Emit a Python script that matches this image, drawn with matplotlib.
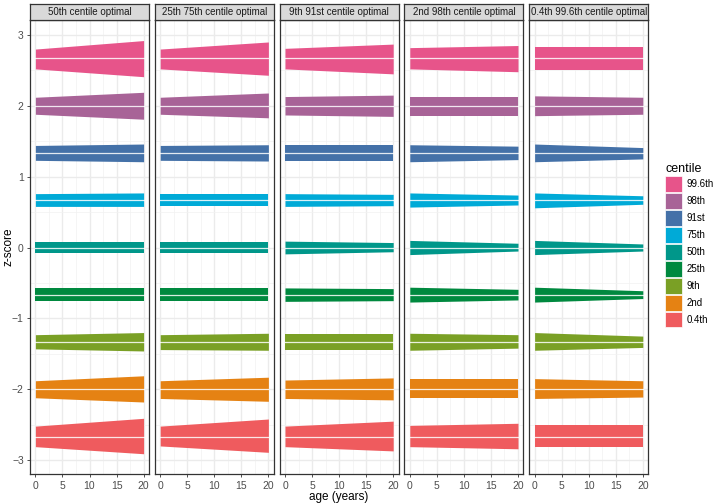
import matplotlib.pyplot as plt
from matplotlib.patches import Patch

plt.rcParams["font.family"] = ["Liberation Sans", "DejaVu Sans"]

ages = [0, 20]

panel_titles = [
    "50th centile optimal",
    "25th 75th centile optimal",
    "9th 91st centile optimal",
    "2nd 98th centile optimal",
    "0.4th 99.6th centile optimal",
]

centiles = ["99.6th", "98th", "91st", "75th", "50th", "25th", "9th", "2nd", "0.4th"]
centile_z = [2.67, 2.0, 1.33, 0.67, 0.0, -0.67, -1.33, -2.0, -2.67]
centile_colours = [
    "#E7548A", "#A86397", "#4471A8", "#00AAD7", "#00978A",
    "#00893F", "#7AA025", "#E58213", "#EF5B5E",
]

# upper / lower edge of each ribbon, (age 0, age 20), per panel then per centile
upper = [
    [(2.80, 2.92), (2.12, 2.19), (1.44, 1.46), (0.76, 0.77), (0.08, 0.08),
     (-0.57, -0.57), (-1.23, -1.20), (-1.88, -1.81), (-2.52, -2.41)],
    [(2.80, 2.90), (2.12, 2.18), (1.44, 1.45), (0.76, 0.76), (0.08, 0.08),
     (-0.57, -0.57), (-1.23, -1.21), (-1.88, -1.83), (-2.52, -2.42)],
    [(2.81, 2.87), (2.13, 2.15), (1.44, 1.44), (0.76, 0.75), (0.09, 0.07),
     (-0.57, -0.58), (-1.22, -1.22), (-1.87, -1.84), (-2.52, -2.45)],
    [(2.82, 2.85), (2.13, 2.13), (1.45, 1.43), (0.77, 0.74), (0.10, 0.06),
     (-0.56, -0.59), (-1.21, -1.23), (-1.86, -1.86), (-2.51, -2.48)],
    [(2.83, 2.83), (2.14, 2.12), (1.46, 1.41), (0.77, 0.73), (0.10, 0.05),
     (-0.56, -0.61), (-1.20, -1.25), (-1.85, -1.88), (-2.50, -2.50)],
]
lower = [
    [(2.52, 2.41), (1.88, 1.81), (1.23, 1.21), (0.58, 0.58), (-0.08, -0.08),
     (-0.76, -0.76), (-1.43, -1.46), (-2.12, -2.18), (-2.81, -2.91)],
    [(2.52, 2.43), (1.88, 1.83), (1.23, 1.22), (0.58, 0.58), (-0.08, -0.08),
     (-0.76, -0.76), (-1.44, -1.45), (-2.13, -2.17), (-2.80, -2.89)],
    [(2.52, 2.45), (1.87, 1.85), (1.22, 1.22), (0.58, 0.59), (-0.09, -0.06),
     (-0.76, -0.75), (-1.44, -1.44), (-2.13, -2.15), (-2.81, -2.87)],
    [(2.52, 2.48), (1.86, 1.86), (1.21, 1.24), (0.57, 0.60), (-0.10, -0.05),
     (-0.77, -0.74), (-1.45, -1.42), (-2.13, -2.13), (-2.81, -2.84)],
    [(2.50, 2.50), (1.86, 1.88), (1.21, 1.25), (0.56, 0.61), (-0.10, -0.05),
     (-0.77, -0.72), (-1.45, -1.41), (-2.13, -2.11), (-2.82, -2.82)],
]

fig = plt.figure(figsize=(7.14, 5.04), dpi=100)
fig.patch.set_facecolor("white")

W, H = 714, 504
left0, width, step = 30, 119, 124.8
bottom, top = 474.3, 20
strip_top = 3.5

axes = []
for i, title in enumerate(panel_titles):
    x0 = left0 + i * step
    ax = fig.add_axes([x0 / W, 1 - bottom / H, width / W, (bottom - top) / H])
    axes.append(ax)

    for j, name in enumerate(centiles):
        ax.fill_between(ages, lower[i][j], upper[i][j],
                        color=centile_colours[j], lw=0, zorder=3)
        ax.plot(ages, [centile_z[j]] * len(ages), color="white",
                lw=0.9, alpha=0.85, zorder=4)

    ax.set_xlim(-1, 21)
    ax.set_ylim(-3.2, 3.21)
    ax.set_xticks([0, 5, 10, 15, 20])
    ax.set_xticks([2.5, 7.5, 12.5, 17.5], minor=True)
    ax.set_yticks([-3, -2, -1, 0, 1, 2, 3])
    ax.set_yticks([-2.5, -1.5, -0.5, 0.5, 1.5, 2.5], minor=True)
    ax.grid(which="major", color="#EBEBEB", lw=1.0, zorder=0)
    ax.grid(which="minor", color="#F2F2F2", lw=0.5, zorder=0)
    ax.set_axisbelow(True)
    ax.tick_params(which="major", length=2.5, width=0.6, color="#333333",
                   labelsize=7.5, labelcolor="#4D4D4D", pad=2)
    ax.tick_params(which="minor", length=0)
    if i > 0:
        ax.tick_params(axis="y", length=0, labelleft=False)
    else:
        ax.set_yticklabels(["\u22123", "\u22122", "\u22121", "0", "1", "2", "3"])
    for s in ax.spines.values():
        s.set_color("#333333")
        s.set_linewidth(0.9)

    # strip
    sax = fig.add_axes([x0 / W, 1 - top / H, width / W, (top - strip_top) / H])
    sax.set_facecolor("#D9D9D9")
    sax.set_xticks([])
    sax.set_yticks([])
    for s in sax.spines.values():
        s.set_color("#333333")
        s.set_linewidth(0.9)
    sax.text(0.5, 0.5, title, ha="center", va="center", fontsize=7,
             color="#1A1A1A", transform=sax.transAxes)

fig.text((left0 + 4 * step + width + left0) / 2 / W, 1 - 497 / H, "age (years)",
         ha="center", va="center", fontsize=8.5)
fig.text(9 / W, 1 - 247 / H, "z-score", ha="center", va="center",
         rotation=90, fontsize=8.5)

handles = [Patch(facecolor=c, edgecolor="white", lw=0.5) for c in centile_colours]
leg = fig.legend(handles, centiles, loc="upper left",
                 bbox_to_anchor=(665 / W, 1 - 163 / H), frameon=False,
                 title="centile", fontsize=7, title_fontsize=9,
                 handlelength=1.7, handleheight=2.15, labelspacing=0.1,
                 handletextpad=0.5, borderaxespad=0, borderpad=0)
leg._legend_box.align = "left"

fig.savefig("out.png", dpi=100)
